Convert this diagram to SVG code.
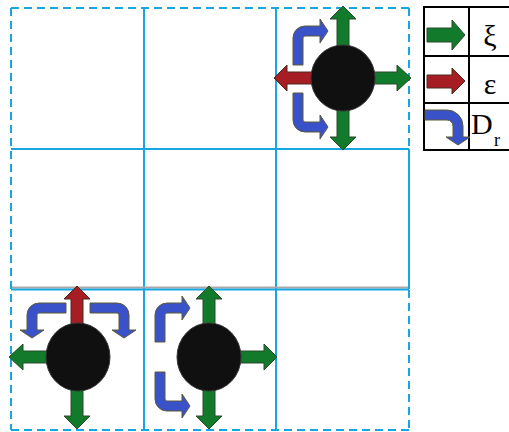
<svg xmlns="http://www.w3.org/2000/svg" width="509" height="432" viewBox="0 0 509 432">
<style>
.grid{stroke:#17a6e0;stroke-width:2;fill:none}
.dash{stroke-dasharray:8 5}
.g{fill:#117a2b;stroke:#2c4a2c;stroke-width:1}
.r{fill:#a61e23;stroke:#4a2a20;stroke-width:1}
.b{fill:#3a52c9;stroke:#5c5a34;stroke-width:1}
.ball{fill:#101010;stroke:#333;stroke-width:1}
.tbl{stroke:#000;stroke-width:2;fill:none}
.sym{font-family:"Liberation Serif",serif;font-size:30px;fill:#000}
</style>
<defs>
<path id="bent" d="M0,39 V12 A12,12 0 0 1 12,0 H27 V-7 L35,5 L27,17 V10 H12 A2,2 0 0 0 10,12 V39 Z"/>
<path id="bentL" d="M0,38 V16 A16,16 0 0 1 16,0 H27 V-7 L35,5 L27,17 V10 H16 A6,6 0 0 0 10,16 V38 Z"/>
</defs>
<rect width="509" height="432" fill="#fff"/>
<g id="grid">
<line class="grid" x1="144" y1="8" x2="144" y2="430"/>
<line class="grid" x1="276" y1="8" x2="276" y2="430"/>
<line class="grid" x1="11" y1="149" x2="409" y2="149"/>
<line x1="11" y1="287.5" x2="409" y2="287.5" stroke="#a9a9a9" stroke-width="2"/>
<line class="grid" x1="11" y1="289.5" x2="409" y2="289.5"/>
<line class="grid dash" x1="11" y1="8" x2="409" y2="8"/>
<line class="grid dash" x1="11" y1="430" x2="409" y2="430"/>
<line class="grid dash" x1="11" y1="8" x2="11" y2="430"/>
<line class="grid dash" x1="409" y1="8" x2="409" y2="149"/>
<line class="grid" x1="409" y1="149" x2="409" y2="289"/>
<line class="grid dash" x1="409" y1="290" x2="409" y2="430"/>
</g>
<g id="connectors"></g>
<g id="node-top-right">
<use href="#bent" class="b" transform="translate(293,26)"/>
<use href="#bent" class="b" transform="translate(293,132) scale(1,-1)"/>
<path class="g" d="M337,50 V19 H330 L343,6 L356,19 H349 V50 Z"/>
<path class="g" d="M360,72 H397 V65 L411,78 L397,91 V84 H360 Z"/>
<path class="g" d="M337,100 V137 H330 L343,150 L356,137 H349 V100 Z"/>
<path class="r" d="M325,72 H287 V65 L274,78 L287,91 V84 H325 Z"/>
<ellipse class="ball" cx="343" cy="78" rx="32" ry="33"/>
</g>
<g id="node-bottom-left">
<use href="#bent" class="b" transform="matrix(0,1,1,0,27,303)"/>
<use href="#bent" class="b" transform="matrix(0,1,-1,0,129,303)"/>
<path class="r" d="M71,330 V299 H64 L77,286 L90,299 H83 V330 Z"/>
<path class="g" d="M60,351 H23 V344 L9,357 L23,370 V363 H60 Z"/>
<path class="g" d="M71,380 V416 H64 L77,429 L90,416 H83 V380 Z"/>
<ellipse class="ball" cx="78" cy="357" rx="32" ry="34"/>
</g>
<g id="node-bottom-middle">
<use href="#bent" class="b" transform="translate(155,303)"/>
<use href="#bent" class="b" transform="translate(155,411) scale(1,-1)"/>
<path class="g" d="M203,330 V299 H196 L209,286 L222,299 H215 V330 Z"/>
<path class="g" d="M225,351 H264 V344 L277,357 L264,370 V363 H225 Z"/>
<path class="g" d="M203,380 V416 H196 L209,429 L222,416 H215 V380 Z"/>
<ellipse class="ball" cx="209" cy="357" rx="32" ry="34"/>
</g>
<g id="legend">
<rect class="tbl" x="424" y="7" width="90" height="143"/>
<line class="tbl" x1="469" y1="7" x2="469" y2="150"/>
<line class="tbl" x1="424" y1="56" x2="514" y2="56"/>
<line class="tbl" x1="424" y1="103" x2="514" y2="103"/>
<path class="g" d="M427,28 H452 V20 L465,35 L452,50 V42 H427 Z"/>
<path class="r" d="M427,75 H452 V68 L465,81 L452,94 V88 H427 Z"/>
<use href="#bentL" class="b" transform="matrix(0,1,-1,0,463,110)"/>
<text class="sym" x="490" y="46" text-anchor="middle">ξ</text>
<text class="sym" x="490" y="94" text-anchor="middle">ε</text>
<text class="sym" x="471" y="134">D</text>
<text class="sym" x="494" y="146" style="font-size:18px">r</text>
</g>
</svg>
